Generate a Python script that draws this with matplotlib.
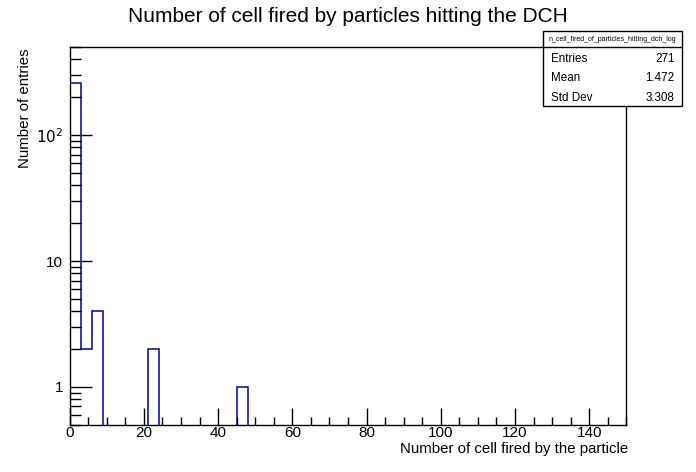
"""ROOT-style log histogram of the number of DCH cells fired per particle."""
import numpy as np
import matplotlib
matplotlib.use("Agg")
import matplotlib.pyplot as plt
from matplotlib.ticker import FixedLocator, NullFormatter

plt.rcParams["font.family"] = ["Liberation Sans", "DejaVu Sans"]

# histogram definition: 50 bins of width 3 over [0, 150]
x_min, x_max, n_bins = 0, 150, 50
filled_bin_lows = [0, 3, 6, 21, 45]
filled_bin_counts = [262, 2, 4, 2, 1]

stats_name = "n_cell_fired_of_particles_hitting_dch_log"
stats_rows = [("Entries", "271"), ("Mean", "1.472"), ("Std Dev", "3.308")]

title = "Number of cell fired by particles hitting the DCH"
x_title = "Number of cell fired by the particle"
y_title = "Number of entries"

line_color = "#0000a0"

edges = np.linspace(x_min, x_max, n_bins + 1)
width = (x_max - x_min) / n_bins
counts = np.zeros(n_bins)
for low, c in zip(filled_bin_lows, filled_bin_counts):
    counts[int(round((low - x_min) / width))] = c

fig = plt.figure(figsize=(6.96, 4.72), dpi=100)
ax = fig.add_axes([0.1, 0.1, 0.8, 0.8])
ax.set_yscale("log")

# empty bins drop below the frame like ROOT does
shown = np.where(counts > 0, counts, 1e-3)
ax.stairs(shown, edges, color=line_color, linewidth=1.1, baseline=1e-3)

ax.set_xlim(x_min, x_max)
ax.set_ylim(0.5, 500)

# ticks inside, ROOT look
ax.xaxis.set_major_locator(FixedLocator(np.arange(0, 141, 20)))
ax.xaxis.set_minor_locator(FixedLocator(np.arange(0, 151, 5)))
ax.tick_params(axis="x", which="major", direction="in", length=12, width=1,
               labelsize=11, pad=1.2, top=False)
ax.tick_params(axis="x", which="minor", direction="in", length=6, width=1, top=False)

ax.yaxis.set_major_locator(FixedLocator([1, 10, 100]))
minor_y = [v * d for d in (0.1, 1, 10, 100) for v in range(2, 10)]
ax.yaxis.set_minor_locator(FixedLocator(minor_y))
ax.yaxis.set_minor_formatter(NullFormatter())
ax.set_yticklabels(["1", "10", r"$10^{2}$"])
ax.tick_params(axis="y", which="major", direction="in", length=16, width=1,
               labelsize=11, pad=4.5, right=False)
ax.tick_params(axis="y", which="minor", direction="in", length=8, width=1, right=False)

for sp in ax.spines.values():
    sp.set_linewidth(1)

fig.text(0.5, 0.964, title, ha="center", va="center", fontsize=15)
fig.text(0.902, 0.040, x_title, ha="right", va="baseline", fontsize=10.8)
fig.text(0.036, 0.898, y_title, ha="center", va="top", rotation=90, fontsize=10.8)

# stats box
bx0, bx1, by0, by1 = 0.780, 0.980, 0.776, 0.934
head_h = 0.034
fig.add_artist(plt.Rectangle((bx0, by0), bx1 - bx0, by1 - by0, transform=fig.transFigure,
                             facecolor="white", edgecolor="black", linewidth=1, zorder=5))
fig.add_artist(plt.Line2D([bx0, bx1], [by1 - head_h] * 2, transform=fig.transFigure,
                          color="black", linewidth=1, zorder=6))
fig.text((bx0 + bx1) / 2, by1 - head_h / 2, stats_name, ha="center", va="center",
         fontsize=5, zorder=7)
row_h = (by1 - head_h - by0) / len(stats_rows)
for i, (k, v) in enumerate(stats_rows):
    yy = by1 - head_h - row_h * (i + 0.58)
    fig.text(bx0 + 0.011, yy, k, ha="left", va="center", fontsize=8.4, zorder=7)
    fig.text(bx1 - 0.011, yy, v, ha="right", va="center", fontsize=8.4, zorder=7)

fig.savefig("out.png", dpi=100)
